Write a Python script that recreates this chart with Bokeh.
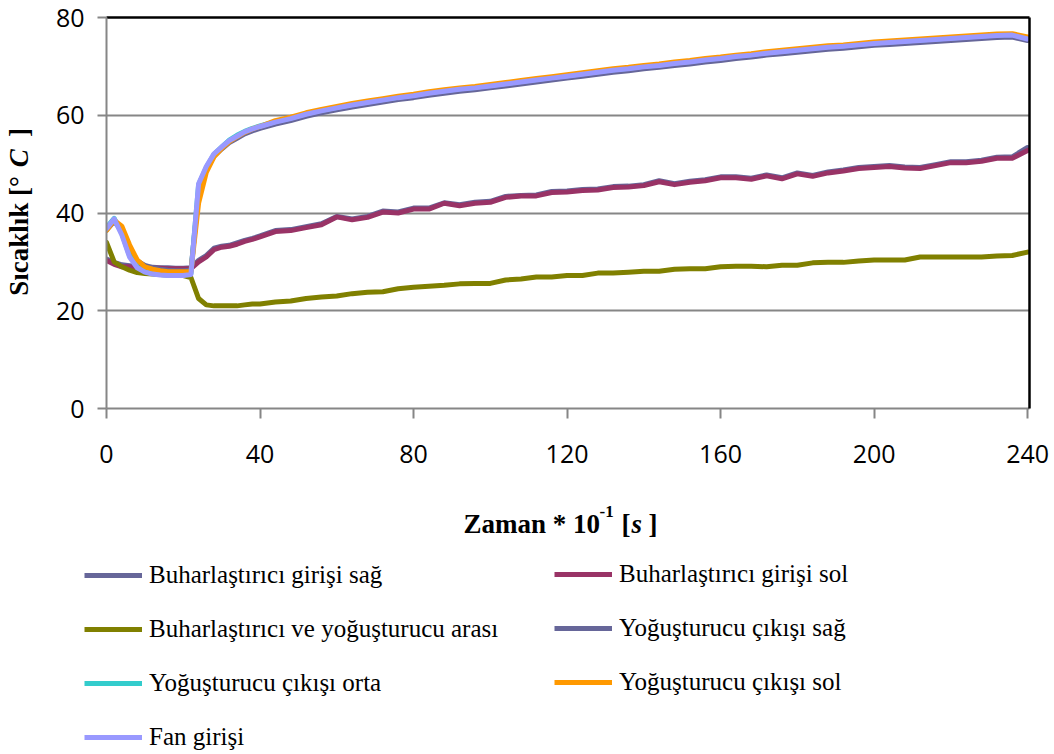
from bokeh.plotting import figure
from bokeh.layouts import column, row
from bokeh.models import (Range1d, FixedTicker, LinearAxis, Legend, LegendItem, Label)
from bokeh.embed import file_html
from bokeh.resources import INLINE

# ---------------- data ----------------
zaman = [0, 2, 4, 6, 8, 10, 12, 14, 16, 18, 20, 22, 24, 26, 28, 30, 32, 34, 36, 38, 40,
         44, 48, 52, 56, 60, 64, 68, 72, 76, 80, 84, 88, 92, 96, 100, 104, 108, 112, 116, 120,
         124, 128, 132, 136, 140, 144, 148, 152, 156, 160, 164, 168, 172, 176, 180, 184, 188,
         192, 196, 200, 204, 208, 212, 216, 220, 224, 228, 232, 236, 240]

buh_giris_sag = [30.6, 29.9, 29.4, 29.2, 29.0, 28.9, 28.9, 28.8, 28.8, 28.7, 28.7, 28.8, 30.3, 31.3, 32.8, 33.2, 33.4, 33.9, 34.4, 34.8, 35.3,
                 36.4, 36.6, 37.2, 37.8, 39.3, 38.8, 39.3, 40.4, 40.2, 41.0, 41.0, 42.1, 41.7, 42.2, 42.4, 43.4, 43.6, 43.7, 44.4, 44.5,
                 44.8, 44.9, 45.4, 45.5, 45.8, 46.6, 46.0, 46.5, 46.8, 47.4, 47.4, 47.1, 47.8, 47.2, 48.2, 47.7, 48.4, 48.8, 49.3, 49.5,
                 49.7, 49.4, 49.3, 49.9, 50.5, 50.5, 50.8, 51.4, 51.5, 53.4]

buh_giris_sol = [30.3, 29.5, 29.0, 29.0, 28.8, 28.8, 28.7, 28.7, 28.6, 28.6, 28.6, 28.6, 30.0, 31.0, 32.5, 33.0, 33.2, 33.6, 34.2, 34.6, 35.1,
                 36.2, 36.4, 37.0, 37.6, 39.2, 38.6, 39.1, 40.2, 40.0, 40.8, 40.8, 42.0, 41.5, 42.0, 42.2, 43.2, 43.5, 43.5, 44.2, 44.3,
                 44.6, 44.7, 45.2, 45.3, 45.6, 46.4, 45.8, 46.3, 46.6, 47.2, 47.2, 46.9, 47.6, 47.0, 48.0, 47.5, 48.2, 48.6, 49.1, 49.3,
                 49.5, 49.2, 49.1, 49.7, 50.3, 50.3, 50.6, 51.2, 51.2, 52.8]

buh_yog_arasi = [34.0, 30.0, 29.0, 28.3, 27.8, 27.6, 27.5, 27.4, 27.3, 27.2, 27.2, 26.8, 22.5, 21.2, 21.0, 21.0, 21.0, 21.0, 21.2, 21.4, 21.4,
                 21.8, 22.0, 22.5, 22.8, 23.0, 23.5, 23.8, 23.9, 24.5, 24.8, 25.0, 25.2, 25.5, 25.6, 25.6, 26.3, 26.5, 26.9, 26.9, 27.2,
                 27.2, 27.7, 27.7, 27.9, 28.1, 28.1, 28.5, 28.6, 28.6, 29.0, 29.1, 29.1, 29.0, 29.3, 29.3, 29.8, 29.9, 29.9, 30.2, 30.4,
                 30.4, 30.4, 31.0, 31.0, 31.0, 31.0, 31.0, 31.2, 31.3, 32.0]

yog_cikis_sag = [36.5, 38.3, 36.4, 32.4, 30.2, 29.3, 28.8, 28.5, 28.3, 28.2, 28.2, 28.3, 44.0, 48.8, 51.6, 53.1, 54.4, 55.3, 56.2, 56.8, 57.3,
                 58.2, 58.9, 59.8, 60.5, 61.1, 61.7, 62.2, 62.7, 63.2, 63.6, 64.1, 64.5, 64.9, 65.2, 65.6, 66.0, 66.4, 66.8, 67.2, 67.6,
                 68.0, 68.4, 68.8, 69.1, 69.5, 69.8, 70.2, 70.5, 70.9, 71.2, 71.6, 71.9, 72.3, 72.6, 72.9, 73.2, 73.5, 73.7, 74.0, 74.3,
                 74.5, 74.7, 74.9, 75.1, 75.3, 75.5, 75.7, 75.9, 76.0, 75.3]

yog_cikis_orta = [37.0, 38.9, 35.8, 31.3, 29.0, 28.0, 27.6, 27.4, 27.3, 27.3, 27.3, 27.6, 45.8, 49.3, 52.0, 53.5, 54.9, 55.9, 56.7, 57.3, 57.8,
                  58.7, 59.4, 60.3, 61.0, 61.6, 62.2, 62.7, 63.2, 63.7, 64.1, 64.6, 65.0, 65.4, 65.7, 66.1, 66.5, 66.9, 67.3, 67.7, 68.1,
                  68.5, 68.9, 69.3, 69.6, 70.0, 70.3, 70.7, 71.0, 71.4, 71.7, 72.1, 72.4, 72.8, 73.1, 73.4, 73.7, 74.0, 74.2, 74.5, 74.8,
                  75.0, 75.2, 75.4, 75.6, 75.8, 76.0, 76.2, 76.4, 76.5, 75.7]

yog_cikis_sol = [36.4, 38.5, 37.3, 33.5, 30.4, 29.0, 28.5, 28.2, 28.0, 28.0, 28.0, 28.0, 42.0, 48.3, 51.5, 53.2, 54.6, 55.6, 56.5, 57.2, 57.7,
                 58.9, 59.6, 60.5, 61.2, 61.8, 62.4, 62.9, 63.4, 63.9, 64.3, 64.8, 65.2, 65.6, 65.9, 66.3, 66.7, 67.1, 67.5, 67.9, 68.3,
                 68.7, 69.1, 69.5, 69.8, 70.2, 70.5, 70.9, 71.2, 71.6, 71.9, 72.3, 72.6, 73.0, 73.3, 73.6, 73.9, 74.2, 74.4, 74.7, 75.0,
                 75.2, 75.4, 75.6, 75.8, 76.0, 76.2, 76.4, 76.6, 76.7, 76.0]

fan_girisi = [36.8, 38.8, 35.5, 31.0, 28.8, 27.9, 27.5, 27.3, 27.2, 27.2, 27.2, 27.4, 46.0, 49.5, 52.1, 53.5, 54.8, 55.7, 56.6, 57.2, 57.7,
              58.6, 59.3, 60.2, 60.9, 61.5, 62.1, 62.6, 63.1, 63.6, 64.0, 64.5, 64.9, 65.3, 65.6, 66.0, 66.4, 66.8, 67.2, 67.6, 68.0,
              68.4, 68.8, 69.2, 69.5, 69.9, 70.2, 70.6, 70.9, 71.3, 71.6, 72.0, 72.3, 72.7, 73.0, 73.3, 73.6, 73.9, 74.1, 74.4, 74.7,
              74.9, 75.1, 75.3, 75.5, 75.7, 75.9, 76.1, 76.3, 76.4, 75.6]

series_names = ["Buharlaştırıcı girişi sağ", "Buharlaştırıcı girişi sol", "Buharlaştırıcı ve yoğuşturucu arası",
                "Yoğuşturucu çıkışı sağ", "Yoğuşturucu çıkışı orta", "Yoğuşturucu çıkışı sol", "Fan girişi"]
series_values = [buh_giris_sag, buh_giris_sol, buh_yog_arasi, yog_cikis_sag, yog_cikis_orta, yog_cikis_sol, fan_girisi]
series_colors = ["#666699", "#993366", "#808000", "#666699", "#33CCCC", "#FF9900", "#9999FF"]

x_ticks = [0, 40, 80, 120, 160, 200, 240]
y_ticks = [0, 20, 40, 60, 80]

# ---------------- layout constants (page pixels) ----------------
W, H = 1054, 754
YW = 50                    # width of the strip holding the y-axis title
TOP_H = 483                # height of the chart row
FL, FR, FT, FB = 106, 1029, 17, 408
XMAX, YMAX = 240.5, 80

GRAY = "#868686"
TICK_FONT = "Open Sans"
SERIF = "Liberation Serif"
LINE_W = 5


def bare(width, height, x_range, y_range):
    f = figure(width=width, height=height, output_backend="svg", toolbar_location=None, title=None,
               x_range=x_range, y_range=y_range, x_axis_location=None, y_axis_location=None,
               min_border=0, min_border_left=0, min_border_right=0, min_border_top=0, min_border_bottom=0)
    f.outline_line_color = None
    f.xgrid.visible = False
    f.ygrid.visible = False
    f.background_fill_color = "white"
    f.border_fill_color = "white"
    return f


# ---------------- main chart ----------------
p = figure(width=W - YW, height=TOP_H, output_backend="svg", toolbar_location=None, title=None,
           x_range=Range1d(0, XMAX), y_range=Range1d(0, YMAX),
           min_border_left=FL - YW, min_border_right=W - FR, min_border_top=FT, min_border_bottom=TOP_H - FB,
           x_axis_location=None, y_axis_location=None)
p.outline_line_color = None
p.background_fill_color = "white"
p.border_fill_color = "white"

xaxis = LinearAxis(ticker=FixedTicker(ticks=x_ticks))
yaxis = LinearAxis(ticker=FixedTicker(ticks=y_ticks))
for ax in (xaxis, yaxis):
    ax.axis_line_color = GRAY
    ax.axis_line_width = 2
    ax.major_tick_line_color = GRAY
    ax.major_tick_line_width = 2
    ax.major_tick_in = 0
    ax.minor_tick_line_color = None
    ax.major_label_text_font = TICK_FONT
    ax.major_label_text_font_size = "25px"
    ax.major_label_text_color = "black"
xaxis.major_tick_out = 10
xaxis.major_label_standoff = 26
yaxis.major_tick_out = 9
yaxis.major_label_standoff = 13
p.add_layout(xaxis, "below")
p.add_layout(yaxis, "left")

for side in ("above", "right"):
    b = LinearAxis(ticker=FixedTicker(ticks=[]))
    b.axis_line_color = "black"
    b.axis_line_width = 2.5
    b.major_tick_line_color = None
    b.minor_tick_line_color = None
    b.major_label_text_font_size = "0px"
    p.add_layout(b, side)

p.xgrid.visible = False
p.ygrid.ticker = FixedTicker(ticks=y_ticks)
p.ygrid.grid_line_color = GRAY
p.ygrid.grid_line_width = 2

for name, vals, col in zip(series_names, series_values, series_colors):
    p.line(zaman, vals, line_color=col, line_width=LINE_W, line_join="round", line_cap="round")


def lab(f, text, x, y, size="27px", style="bold", angle=0, align="left", baseline="alphabetic"):
    f.add_layout(Label(x=x, y=y, text=text, text_font=SERIF, text_font_size=size,
                       text_font_style=style, text_color="black", text_align=align,
                       text_baseline=baseline, angle=angle, angle_units="deg"))


# ---------------- y-axis title strip (page coordinates) ----------------
yfig = bare(YW, TOP_H, Range1d(0, YW), Range1d(TOP_H, 0))
lab(yfig, "Sıcaklık [°", 18, 270, angle=90, align="center", baseline="middle")
lab(yfig, "C", 18, 174, style="bold italic", angle=90, align="center", baseline="middle")
lab(yfig, "]", 18, 142, angle=90, align="center", baseline="middle")

# ---------------- bottom strip: x-axis title + legend ----------------
BH = H - TOP_H
bfig = bare(W, BH, Range1d(0, W), Range1d(BH, 0))
# series drawn again on a hidden range, only so that the legend can show their line styles
bfig.extra_y_ranges = {"hidden": Range1d(1000, 1100)}


def blab(text, x, y, size="27px", style="bold"):
    lab(bfig, text, x, y - TOP_H, size=size, style=style)


blab("Zaman * 10", 463, 523)
blab("-1", 599, 511, size="17px")
blab("[", 621, 523)
blab("s", 631, 523, style="bold italic")
blab("]", 648, 523)

legend_renderers = []
for name, vals, col in zip(series_names, series_values, series_colors):
    r = bfig.line(zaman, vals, line_color=col, line_width=LINE_W, y_range_name="hidden")
    legend_renderers.append((name, r))


def make_legend(items, loc):
    leg = Legend(items=[LegendItem(label=n, renderers=[r]) for n, r in items], location=loc)
    leg.orientation = "vertical"
    leg.border_line_color = None
    leg.background_fill_alpha = 0
    leg.padding = 0
    leg.margin = 0
    leg.spacing = 24
    leg.glyph_width = 58
    leg.glyph_height = 30
    leg.label_height = 30
    leg.label_standoff = 7
    leg.label_text_font = SERIF
    leg.label_text_font_size = "25px"
    leg.label_text_color = "black"
    return leg


col1 = [legend_renderers[i] for i in (0, 2, 4, 6)]
col2 = [legend_renderers[i] for i in (1, 3, 5)]
bfig.add_layout(make_legend(col1, (84, H - 752)))
bfig.add_layout(make_legend(col2, (554, H - 697)))

layout = column(row(yfig, p, spacing=0), bfig, spacing=0)

open("out.html", "w").write(file_html(layout, INLINE))
